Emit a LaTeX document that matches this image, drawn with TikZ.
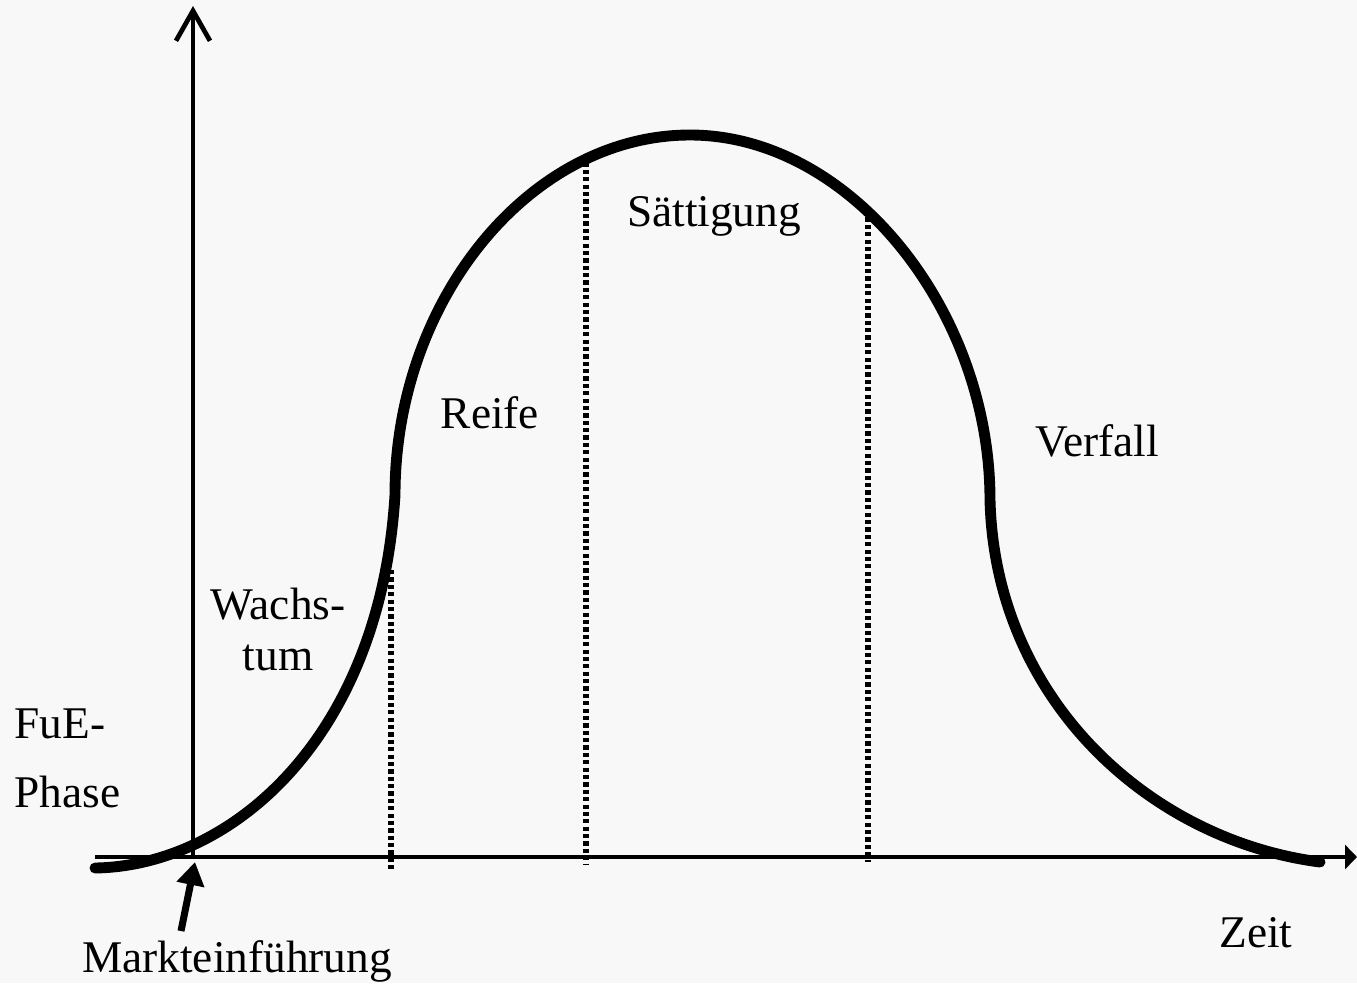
\documentclass[tikz,border=0pt]{standalone}
\usepackage{fontspec}
\setmainfont{Liberation Serif}
\usepackage{tikz}
\usetikzlibrary{arrows.meta,positioning,calc}
\definecolor{bgpaper}{HTML}{F8F8F8}
\tikzset{
  axis/.style={line width=1.35pt,draw=black},
  lifecurve/.style={line width=3.1pt,draw=black,line cap=round},
  phaseline/.style={line width=1.5pt,draw=black,dash pattern=on 1.2pt off 0.9pt},
  lbl/.style={font=\fontsize{12.9}{14.5}\selectfont,inner sep=0pt,anchor=base},
  markarr/.style={-{Triangle[length=2.3mm,width=2.7mm]},line width=2pt,draw=black},
}
\begin{document}
\begin{tikzpicture}
  \fill[bgpaper] (0,0) rectangle (13.57,9.83);
  \useasboundingbox (0,0) rectangle (13.57,9.83);
  % achsen
  \coordinate (O) at (1.93,1.26);
  \coordinate (xl) at (0.95,1.26);
  \coordinate (xr) at (13.57,1.26);
  \coordinate (yt) at (1.93,9.77);
  \draw[axis,-{Triangle[length=1.2mm,width=2.4mm]}] (xl) -- (xr);
  \draw[axis,-{Straight Barb[length=3mm,width=3.4mm]}] (O) -- (yt);
  % lebenszyklus
  \coordinate (start) at (0.95,1.15);
  \coordinate (wende1) at (3.95,4.88);
  \coordinate (gipfel) at (6.90,8.48);
  \coordinate (wende2) at (9.90,4.83);
  \coordinate (ende) at (13.20,1.21);
  \draw[lifecurve] (start) .. controls (2.30,1.17) and (3.80,2.43) .. (wende1)
    .. controls (3.95,6.83) and (5.30,8.48) .. (gipfel)
    .. controls (8.50,8.48) and (9.90,6.73) .. (wende2)
    .. controls (9.95,2.83) and (11.50,1.43) .. (ende);
  % phasengrenzen
  \foreach \n/\x/\t/\b in {g1/3.91/4.13/1.13,g2/5.86/8.28/1.18,g3/8.68/7.73/1.21} {
    \coordinate (\n o) at (\x,\t);
    \coordinate (\n u) at (\x,\b);
    \draw[phaseline] (\n o) -- (\n u);
  }
  % beschriftung
  \node[lbl] (saett) at (7.14,7.57) {Sättigung};
  \node[lbl] (reife) at (4.90,5.55) {Reife};
  \node[lbl] (verfall) at (10.97,5.27) {Verfall};
  \node[lbl,anchor=center,align=center] (wachs) at (2.78,3.54) {Wachs-\\tum};
  \node[lbl,anchor=west,align=left,font=\fontsize{12.9}{19.6}\selectfont] (fue) at (0.14,2.25) {FuE-\\Phase};
  \node[lbl] (zeit) at (12.56,0.36) {Zeit};
  \node[lbl] (markt) at (2.37,0.11) {Markteinführung};
  \coordinate (mfuss) at (1.81,0.52);
  \coordinate (mspitze) at (1.95,1.21);
  \draw[markarr] (mfuss) -- (mspitze);
\end{tikzpicture}
\end{document}
